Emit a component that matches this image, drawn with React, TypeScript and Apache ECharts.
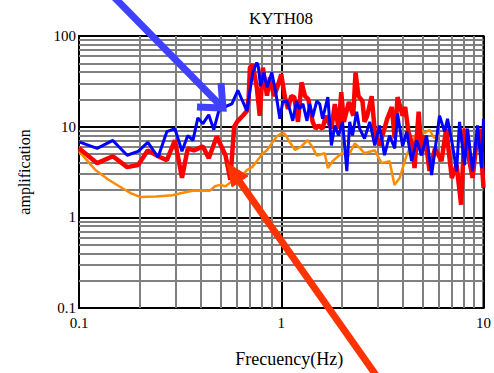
import React, { useEffect, useRef } from 'react';
import * as echarts from 'echarts';

const titleText = 'KYTH08';
const xName = 'Frecuency(Hz)';
const yName = 'amplification';

const freqBlue = [0.1, 0.123, 0.147, 0.173, 0.196, 0.219, 0.246, 0.272, 0.298, 0.323, 0.345, 0.366, 0.387, 0.41, 0.438, 0.464, 0.491, 0.538, 0.57, 0.61, 0.676, 0.723, 0.757, 0.77, 0.79, 0.82, 0.85, 0.898, 0.939, 0.984, 1.017, 1.064, 1.1, 1.14, 1.19, 1.23, 1.28, 1.34, 1.38, 1.43, 1.5, 1.55, 1.6, 1.7, 1.77, 1.84, 1.92, 2.01, 2.11, 2.18, 2.25, 2.36, 2.44, 2.58, 2.74, 2.9, 3.06, 3.24, 3.43, 3.64, 3.76, 3.98, 4.17, 4.41, 4.67, 4.94, 5.23, 5.54, 5.86, 6.06, 6.42, 6.64, 7.03, 7.36, 7.61, 8.06, 8.34, 8.83, 9.34, 9.78, 10];
const ampBlue = [6.8, 5.77, 7.05, 4.84, 5.35, 6.7, 4.6, 8.82, 9.5, 5.35, 7.98, 7.05, 12.5, 10.8, 13.5, 9.27, 14.9, 16.9, 17.8, 25.2, 14.9, 39.6, 50.9, 46, 27.9, 39.6, 27.2, 39.6, 24, 12.2, 18.7, 19.2, 15.7, 11.6, 19.2, 15.7, 17.8, 11.6, 17.8, 12.8, 19.2, 17.8, 12.2, 21.2, 6.21, 10.3, 7.98, 11.3, 3.24, 11.3, 7.98, 14.6, 9.5, 7.41, 11.3, 6.21, 10.3, 4.84, 7.98, 5.77, 14, 6.06, 8.82, 4.17, 7.05, 4.84, 7.98, 2.93, 7.41, 13.2, 8.82, 12.2, 6.21, 3.24, 11.3, 3.77, 9.5, 3.24, 10.3, 3.49, 12.2];

const freqRed = [0.1, 0.123, 0.147, 0.173, 0.196, 0.219, 0.246, 0.272, 0.298, 0.323, 0.345, 0.37, 0.41, 0.438, 0.48, 0.53, 0.56, 0.585, 0.61, 0.645, 0.676, 0.69, 0.7, 0.723, 0.757, 0.783, 0.811, 0.85, 0.88, 0.92, 0.95, 1.0, 1.04, 1.08, 1.12, 1.16, 1.21, 1.26, 1.31, 1.36, 1.43, 1.48, 1.53, 1.6, 1.66, 1.77, 1.84, 1.92, 1.98, 2.04, 2.16, 2.27, 2.33, 2.41, 2.52, 2.58, 2.66, 2.8, 2.9, 3.06, 3.24, 3.34, 3.52, 3.64, 3.76, 3.98, 4.1, 4.25, 4.46, 4.56, 4.78, 4.94, 5.13, 5.41, 5.76, 6.2, 6.54, 6.97, 7.36, 7.75, 8.06, 8.34, 8.83, 9.2, 9.56, 10];
const ampRed = [5.77, 3.96, 4.72, 3.58, 3.77, 5.48, 4.72, 4.27, 7.05, 2.72, 5.77, 5.48, 6.06, 4.49, 7.79, 4.84, 2.6, 10, 11.6, 13.2, 14.9, 21, 44.9, 48.4, 27, 13.2, 44.9, 22, 35, 21.7, 26, 37.7, 21.7, 15.7, 21.7, 21.2, 11.3, 30.8, 21.7, 20.1, 11.3, 9.5, 10.3, 9.5, 13.2, 9.5, 17.8, 9.5, 24, 11.3, 18.7, 13.2, 39.6, 21.7, 19.2, 11.3, 13.2, 21.7, 8.82, 6.21, 9.5, 12.2, 16.5, 7.41, 21.2, 13.2, 16.5, 8.82, 6.21, 3.49, 14.6, 4.84, 8, 3.24, 5.77, 4.17, 9.5, 2.72, 3.77, 1.38, 9.5, 5.35, 2.72, 6.21, 9.5, 2.12];

const freqOrange = [0.1, 0.11, 0.121, 0.14, 0.158, 0.18, 0.2, 0.24, 0.29, 0.33, 0.366, 0.41, 0.443, 0.47, 0.5, 0.53, 0.557, 0.6, 0.63, 0.676, 0.72, 0.76, 0.811, 0.85, 0.9, 0.95, 1.0, 1.04, 1.09, 1.17, 1.25, 1.35, 1.42, 1.5, 1.64, 1.7, 1.8, 1.99, 2.15, 2.31, 2.45, 2.58, 2.9, 3.13, 3.43, 3.63, 3.85, 4.17, 4.46, 4.83, 5.1, 5.41, 5.7, 6.06];
const ampOrange = [5.35, 4.2, 3.3, 2.6, 2.2, 1.85, 1.68, 1.7, 1.75, 1.88, 1.96, 1.98, 1.96, 2.2, 2.28, 2.2, 2.4, 2.6, 2.75, 3.32, 3.6, 4.2, 5.09, 5.5, 6.6, 7.78, 8.4, 8.4, 7.0, 5.53, 6.0, 7.1, 6.06, 4.8, 5.09, 3.49, 4.2, 5.09, 4.8, 6.54, 5.8, 5.09, 5.49, 3.96, 4.17, 2.28, 2.72, 4.84, 7.0, 9.5, 8.5, 9.2, 7.5, 8.0];

const xMinorGrid = [0.2, 0.3, 0.4, 0.5, 0.6, 0.7, 0.8, 0.9, 2, 3, 4, 5, 6, 7, 8, 9];
const yMinorGrid = [0.2, 0.3, 0.4, 0.5, 0.6, 0.7, 0.8, 0.9, 2, 3, 4, 5, 6, 7, 8, 9, 20, 30, 40, 50, 60, 70, 80, 90];

const SERIF = '"Liberation Serif", "Times New Roman", serif';

function pairs(f: number[], a: number[]) {
  return f.map((v, i) => [v, a[i]]);
}

export default function App() {
  const ref = useRef<HTMLDivElement>(null);
  useEffect(() => {
    document.body.style.margin = '0';
    const chart = echarts.init(ref.current!, null, { renderer: 'svg' });
    const gridMarks = [
      ...xMinorGrid.map((v) => ({ xAxis: v })),
      ...yMinorGrid.map((v) => ({ yAxis: v })),
    ];
    chart.setOption({
      animation: false,
      backgroundColor: '#fff',
      title: {
        text: titleText,
        left: 276,
        top: 5,
        textAlign: 'center',
        textStyle: { fontFamily: SERIF, fontSize: 17, fontWeight: 'normal', color: '#000' },
      },
      grid: {
        left: 79,
        right: 10,
        top: 36,
        bottom: 61,
        show: true,
        borderColor: '#000',
        borderWidth: 2,
        backgroundColor: 'transparent',
      },
      xAxis: {
        type: 'log',
        logBase: 10,
        min: 0.1,
        max: 10,
        name: xName,
        nameLocation: 'middle',
        nameGap: 42,
        nameTextStyle: { fontFamily: SERIF, fontSize: 18, color: '#000', padding: [0, 0, 0, 16] },
        axisLine: { show: true, lineStyle: { color: '#000', width: 2 } },
        axisTick: { show: false },
        axisLabel: { fontFamily: SERIF, fontSize: 15, color: '#000', margin: 7 },
        splitLine: { show: true, lineStyle: { color: '#000', width: 2 } },
      },
      yAxis: {
        type: 'log',
        logBase: 10,
        min: 0.1,
        max: 100,
        name: yName,
        nameLocation: 'middle',
        nameRotate: 90,
        nameGap: 47,
        nameTextStyle: { fontFamily: SERIF, fontSize: 16, color: '#000' },
        axisLine: { show: true, lineStyle: { color: '#000', width: 2 } },
        axisTick: { show: false },
        axisLabel: { fontFamily: SERIF, fontSize: 15, color: '#000', margin: 3, padding: [5, 0, 0, 0] },
        splitLine: { show: true, lineStyle: { color: '#000', width: 2 } },
      },
      series: [
        {
          type: 'line',
          name: 'grid',
          data: [[0.1, 0.1]],
          symbol: 'none',
          silent: true,
          lineStyle: { opacity: 0 },
          markLine: {
            z: 1,
            silent: true,
            symbol: ['none', 'none'],
            label: { show: false },
            emphasis: { disabled: true },
            lineStyle: { color: '#808080', width: 2, type: 'solid' },
            data: gridMarks,
          },
        },
        {
          type: 'line',
          name: 'orange',
          data: pairs(freqOrange, ampOrange),
          symbol: 'none',
          z: 3,
          lineStyle: { color: '#ff8c00', width: 2.5 },
        },
        {
          type: 'line',
          name: 'red',
          data: pairs(freqRed, ampRed),
          symbol: 'none',
          z: 4,
          lineStyle: { color: '#ff0000', width: 4.5 },
        },
        {
          type: 'line',
          name: 'blue',
          data: pairs(freqBlue, ampBlue),
          symbol: 'none',
          z: 5,
          lineStyle: { color: '#0000ff', width: 3 },
        },
      ],
      graphic: [
        {
          type: 'line',
          z: 100,
          shape: { x1: 113, y1: -4, x2: 221, y2: 106 },
          style: { stroke: '#4040ff', lineWidth: 7 },
        },
        {
          type: 'polyline',
          z: 100,
          shape: { points: [[197, 107], [223, 108], [221, 83]] },
          style: { stroke: '#4040ff', lineWidth: 7, fill: null },
        },
        {
          type: 'line',
          z: 100,
          shape: { x1: 378, y1: 378, x2: 237, y2: 178 },
          style: { stroke: '#ff3300', lineWidth: 7 },
        },
        {
          type: 'polygon',
          z: 100,
          shape: { points: [[227, 163], [248, 176], [232, 187]] },
          style: { fill: '#ff3300', stroke: '#ff3300', lineWidth: 1 },
        },
      ],
    });
    return () => chart.dispose();
  }, []);
  return <div ref={ref} style={{ width: 494, height: 373 }} />;
}
